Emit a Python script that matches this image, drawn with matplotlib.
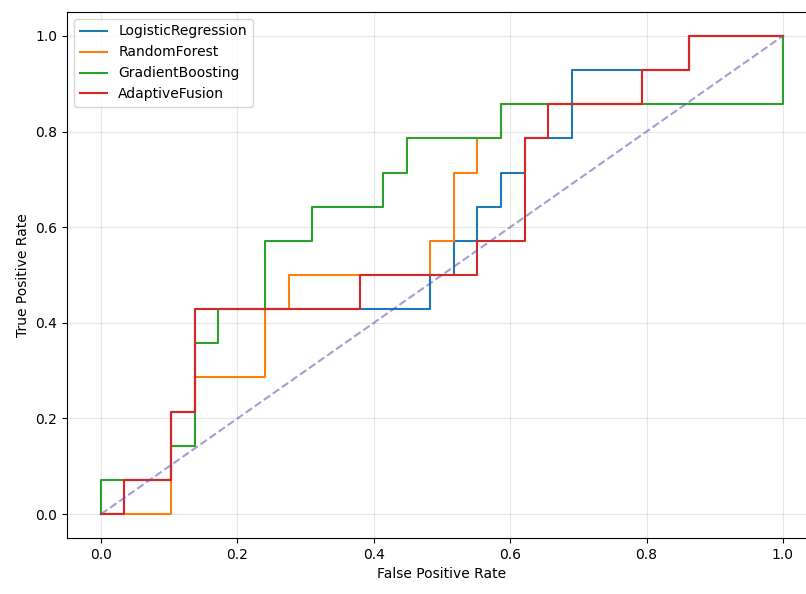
import matplotlib
matplotlib.use("Agg")
import matplotlib.pyplot as plt

series_names = ["LogisticRegression", "RandomForest", "GradientBoosting", "AdaptiveFusion"]
series_colors = ["tab:blue", "tab:orange", "tab:green", "tab:red"]

lr_fpr = [0, 0.034, 0.034, 0.103, 0.103, 0.138, 0.138, 0.483, 0.483, 0.517, 0.517, 0.552, 0.552,
          0.586, 0.586, 0.621, 0.621, 0.690, 0.690, 0.862, 0.862, 1.0]
lr_tpr = [0, 0, 0.071, 0.071, 0.214, 0.214, 0.429, 0.429, 0.5, 0.5, 0.571, 0.571, 0.643,
          0.643, 0.714, 0.714, 0.786, 0.786, 0.929, 0.929, 1.0, 1.0]

rf_fpr = [0, 0.103, 0.103, 0.138, 0.138, 0.241, 0.241, 0.276, 0.276, 0.483, 0.483, 0.517, 0.517,
          0.552, 0.552, 0.586, 0.586, 0.793, 0.793, 0.862, 0.862, 1.0]
rf_tpr = [0, 0, 0.214, 0.214, 0.286, 0.286, 0.429, 0.429, 0.5, 0.5, 0.571, 0.571, 0.714,
          0.714, 0.786, 0.786, 0.857, 0.857, 0.929, 0.929, 1.0, 1.0]

gb_fpr = [0, 0, 0.103, 0.103, 0.138, 0.138, 0.172, 0.172, 0.241, 0.241, 0.310, 0.310, 0.414,
          0.414, 0.448, 0.448, 0.586, 0.586, 1.0, 1.0]
gb_tpr = [0, 0.071, 0.071, 0.143, 0.143, 0.357, 0.357, 0.429, 0.429, 0.571, 0.571, 0.643, 0.643,
          0.714, 0.714, 0.786, 0.786, 0.857, 0.857, 1.0]

af_fpr = [0, 0.034, 0.034, 0.103, 0.103, 0.138, 0.138, 0.379, 0.379, 0.552, 0.552, 0.621, 0.621,
          0.655, 0.655, 0.793, 0.793, 0.862, 0.862, 1.0]
af_tpr = [0, 0, 0.071, 0.071, 0.214, 0.214, 0.429, 0.429, 0.5, 0.5, 0.571, 0.571, 0.786,
          0.786, 0.857, 0.857, 0.929, 0.929, 1.0, 1.0]

all_fpr = [lr_fpr, rf_fpr, gb_fpr, af_fpr]
all_tpr = [lr_tpr, rf_tpr, gb_tpr, af_tpr]

fig = plt.figure(figsize=(8.06, 5.94), dpi=100)
ax = fig.add_axes([67 / 806, 56 / 594, 750 / 806, 526 / 594])

for name, color, fx, ty in zip(series_names, series_colors, all_fpr, all_tpr):
    ax.plot(fx, ty, color=color, label=name, linewidth=1.5)

ax.plot([0, 1], [0, 1], linestyle="--", color="#5a4fb0", alpha=0.55, linewidth=1.5)

ax.set_xlabel("False Positive Rate")
ax.set_ylabel("True Positive Rate")
ax.grid(True, alpha=0.3)
ax.legend(loc="upper left")

fig.savefig("out.png", dpi=100)
